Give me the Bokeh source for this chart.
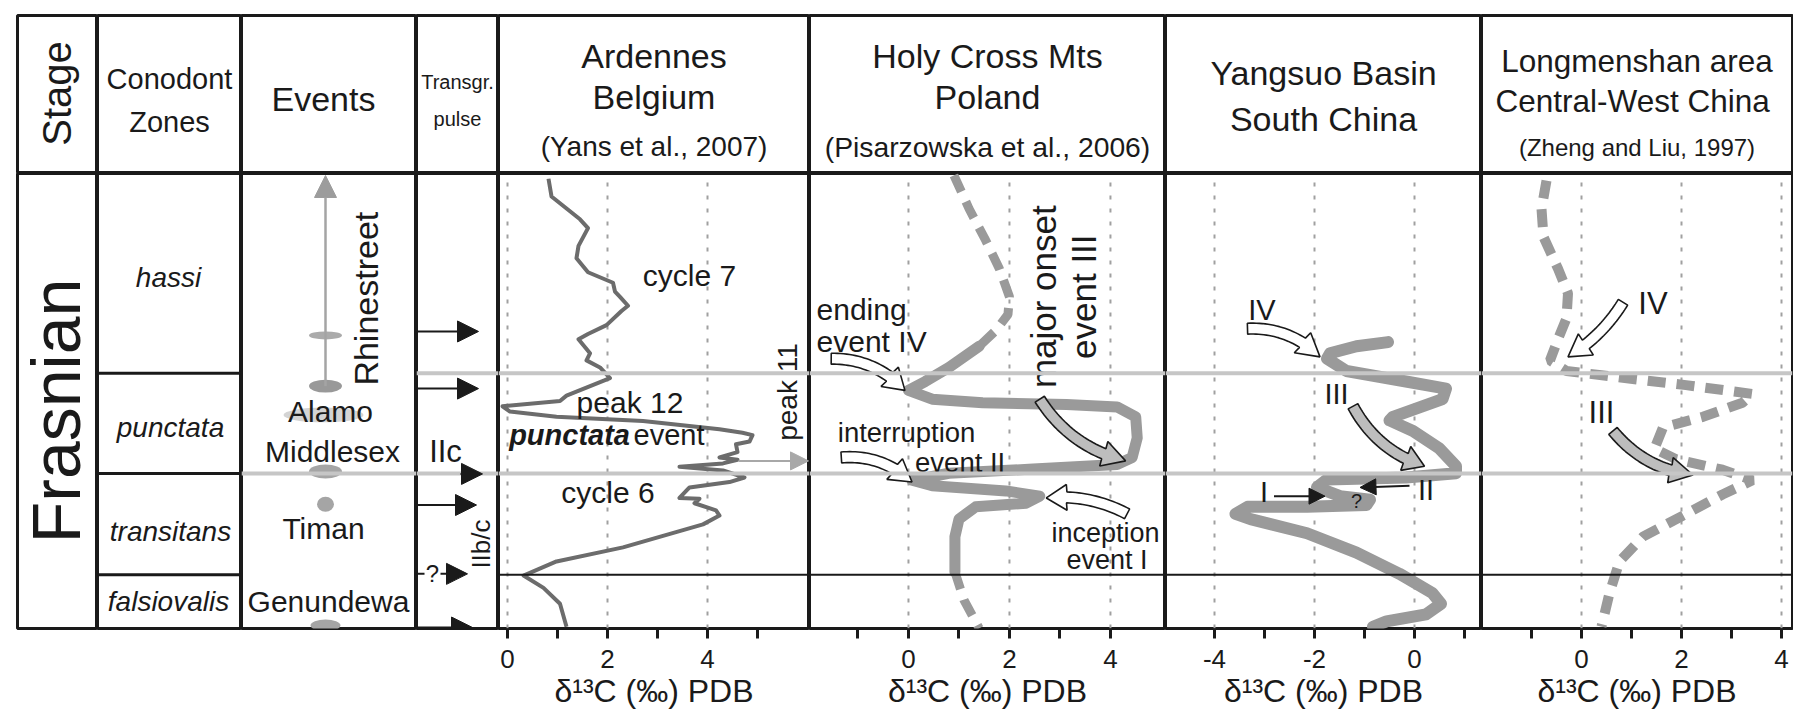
import glob
from math import pi, hypot
from bokeh.plotting import figure
from bokeh.layouts import row, column
from bokeh.models import Range1d, FixedTicker, Span, Arrow, NormalHead
from bokeh.core.properties import value
from bokeh.embed import file_html
from bokeh.resources import INLINE

# ------------------------------------------------------------------ data
stage_name = "Frasnian"
zone_names = ["hassi", "punctata", "transitans", "falsiovalis"]
zone_label_level = [353, 202, 98, 27]
zone_boundaries = [257, 156, 54]      # hassi/punctata, punctata/transitans, transitans/falsiovalis
top_level = 458

event_names = ["Alamo", "Middlesex", "Timan", "Genundewa"]
event_level = [218, 178, 101, 27]
event_marker_level = [295, 244, 158, 125, 3]

pulse_names = ["IIc", "IIb/c"]
pulse_level = [299, 241.5, 155.6, 124.3, 55, 1]

ardennes_d13c = [0.82, 0.88, 1.45, 1.61, 1.42, 1.38, 1.61, 2.11, 2.15, 2.25, 2.41, 2.28, 1.98,
                 1.61, 1.42, 1.65, 1.58, 1.85, 2.05, 1.18, 1.05, -0.10, 0.05, 0.98, 2.71, 4.24,
                 4.70, 4.90, 4.84, 4.57, 4.60, 4.24, 4.60, 4.31, 3.44, 4.31, 4.74, 4.44, 3.64,
                 3.44, 3.84, 3.74, 4.17, 4.24, 3.91, 2.31, 0.98, 0.32, 0.72, 1.05, 1.18]
ardennes_level = [452.7, 434.9, 411.9, 403, 385.2, 372.8, 358.6, 348, 339.1, 333.8, 324.9, 319.6,
                  305.4, 296.5, 291.2, 277, 269.9, 262.8, 252.1, 234.4, 229, 223.7, 218.4, 213.1,
                  208.8, 200.6, 197.1, 194.6, 188.2, 185.4, 177.6, 172.2, 169.8, 166.2, 162.7,
                  159.1, 152, 147.4, 142, 131.4, 130.7, 126.1, 119, 113.7, 104.8, 81.7, 67.5,
                  53.3, 40.9, 24.9, 1.8]

holy_top_d13c = [0.90, 1.20, 1.53, 1.80, 2.00, 1.97, 1.73, 1.40]
holy_top_level = [456.2, 422.5, 390.6, 362.2, 333.8, 316, 300, 284.1]
holy_mid_d13c = [1.40, 0.80, 0.33, 0.00, 0.47, 1.47, 3.13, 4.13, 4.50, 4.53, 4.43, 4.13, 2.47,
                 0.80, 0.07, 0.47, 1.93, 2.60, 2.33, 1.33, 1.00, 0.92, 0.92]
holy_mid_level = [284.1, 262.8, 248.6, 239.7, 230.8, 227.3, 225.5, 223, 213.1, 191.8, 172.2,
                  165.1, 160.5, 156.3, 149.2, 143.8, 138.5, 133.2, 126.1, 122.5, 110.1, 92.4, 56.9]
holy_bot_d13c = [0.92, 1.10, 1.40]
holy_bot_level = [56.9, 28.5, 0.1]

yangsuo_d13c = [-0.53, -1.16, -1.69, -1.75, -1.36, -0.17, 0.63, 0.56, -0.43, -0.50, -0.03, 0.50,
                0.83, 0.83, -0.17, -1.75, -1.95, -1.49, -0.89, -0.96, -2.15, -3.34, -3.58, -3.28,
                -2.15, -1.16, -0.30, 0.36, 0.53, 0.23, -0.56, -0.83]
yangsuo_level = [288.3, 284.1, 277, 271.6, 259.2, 248.6, 241.5, 230.8, 213.1, 209.5, 198.9, 181.1,
                 163.4, 156.3, 152, 149.9, 142.1, 133.2, 129.6, 124.3, 122.5, 122.5, 115.4, 110.1,
                 95.9, 76.4, 55.1, 35.6, 24.9, 14.3, 7.2, 1.8]

longmen_d13c = [-0.70, -0.80, -0.76, -0.47, -0.27, -0.30, -0.47, -0.63, -0.30, 0.56, 2.09, 3.42,
                3.22, 2.43, 1.63, 1.46, 1.89, 2.82, 3.42, 2.82, 2.03, 1.23, 0.76, 0.56, 0.40]
longmen_level = [450.9, 422.5, 394.1, 362.2, 337.3, 312.4, 291.2, 269.9, 259.2, 253.9, 245,
                 236.1, 227.3, 213.1, 202.4, 181.1, 170.5, 159.8, 149.2, 134.9, 113.7, 92.4,
                 67.5, 35.6, 1.8]

ardennes_ticks = [0, 1, 2, 3, 4, 5]
holy_ticks = [-1, 0, 1, 2, 3, 4]
yangsuo_ticks = [-4, -3, -2, -1, 0, 1]
longmen_ticks = [-1, 0, 1, 2, 3, 4]
ardennes_grid = [0, 2, 4]
holy_grid = [0, 2, 4]
yangsuo_grid = [-4, -2, 0]
longmen_grid = [0, 2, 4]

header_titles = {
    "stage": ["Stage"],
    "conodont": ["Conodont", "Zones"],
    "events": ["Events"],
    "pulse": ["Transgr.", "pulse"],
    "ardennes": ["Ardennes", "Belgium", "(Yans et al., 2007)"],
    "holy": ["Holy Cross Mts", "Poland", "(Pisarzowska et al., 2006)"],
    "yangsuo": ["Yangsuo Basin", "South China"],
    "longmen": ["Longmenshan area", "Central-West  China", "(Zheng and Liu, 1997)"],
}
axis_title = "δ¹³C (‰) PDB"

# ------------------------------------------------------------------ fonts
HAS_NARROW = bool(glob.glob("/usr/share/fonts/**/LiberationSansNarrow*", recursive=True))
NF = "Liberation Sans Narrow" if HAS_NARROW else "Liberation Sans"
K = 1 / 0.82 if HAS_NARROW else 1.0
RF = "Liberation Sans"
INK = "#1a1a1a"
CURVE = "#9a9a9a"
BLANK = "\u00a0"

BODY_H = 458
AX_B = 92
HEAD_H = 158
TOP_B = 15


def add_text(p, xs, ys, texts, size, font=None, style="normal", angle=0.0, align="center",
             baseline="middle", color=INK, narrow=True):
    f = font or (NF if narrow else RF)
    sz = size * K if (narrow and font is None) else size
    p.text(x=xs, y=ys, text=texts, text_font=value(f), text_font_size=value(f"{sz:.1f}px"),
           text_font_style=style, text_align=align, text_baseline=baseline, angle=angle,
           text_color=color)


def block_arrow(tail, head, sx, sy=1.0, bend=0.0, body=5.5, headw=13.0, headl=20.0, n=30):
    x0, y0 = tail[0] * sx, tail[1] * sy
    x1, y1 = head[0] * sx, head[1] * sy
    dx, dy = x1 - x0, y1 - y0
    L = hypot(dx, dy)
    nx, ny = -dy / L, dx / L
    cx, cy = (x0 + x1) / 2 + nx * bend * L, (y0 + y1) / 2 + ny * bend * L
    pts = []
    for i in range(n):
        t = i / (n - 1)
        pts.append(((1 - t) ** 2 * x0 + 2 * (1 - t) * t * cx + t * t * x1,
                    (1 - t) ** 2 * y0 + 2 * (1 - t) * t * cy + t * t * y1))
    acc, k = 0.0, n - 1
    while k > 1 and acc < headl:
        acc += hypot(pts[k][0] - pts[k - 1][0], pts[k][1] - pts[k - 1][1])
        k -= 1
    left, right = [], []
    for i in range(k + 1):
        a, b = pts[max(i - 1, 0)], pts[min(i + 1, n - 1)]
        tx, ty = b[0] - a[0], b[1] - a[1]
        tl = hypot(tx, ty)
        ux, uy = -ty / tl, tx / tl
        left.append((pts[i][0] + ux * body, pts[i][1] + uy * body))
        right.append((pts[i][0] - ux * body, pts[i][1] - uy * body))
    a = pts[k]
    tx, ty = x1 - a[0], y1 - a[1]
    tl = hypot(tx, ty)
    ux, uy = -ty / tl, tx / tl
    poly = left + [(a[0] + ux * headw, a[1] + uy * headw), (x1, y1),
                   (a[0] - ux * headw, a[1] - uy * headw)] + right[::-1]
    return [q[0] / sx for q in poly], [q[1] / sy for q in poly]


def draw_block(p, tail, head, sx, bend, fill):
    xs, ys = block_arrow(tail, head, sx, bend=bend)
    p.patch(xs, ys, fill_color=fill, line_color=INK, line_width=1.6)


def header_fig(w, left=0, right=0):
    p = figure(width=w + left + right, height=HEAD_H + TOP_B, x_range=Range1d(0, w),
               y_range=Range1d(0, HEAD_H), min_border=0, min_border_top=TOP_B,
               min_border_left=left, min_border_right=right, x_axis_location=None,
               y_axis_location=None, output_backend="svg", toolbar_location=None, tools="")
    p.grid.visible = False
    p.outline_line_color = INK
    p.outline_line_width = 3
    return p


def body_fig(w, xr, ticks=None, labels=None, left=0, right=0):
    p = figure(width=w + left + right, height=BODY_H + AX_B, x_range=Range1d(*xr),
               y_range=Range1d(0, top_level), min_border=0, min_border_bottom=AX_B,
               min_border_left=left, min_border_right=right, y_axis_location=None,
               output_backend="svg", toolbar_location=None, tools="")
    p.grid.visible = False
    p.outline_line_color = INK
    p.outline_line_width = 3
    ax = p.xaxis[0]
    ax.axis_line_color = None
    ax.axis_label_text_font = RF
    ax.axis_label_text_font_size = "32px"
    ax.axis_label_text_font_style = "normal"
    ax.axis_label_text_color = INK
    ax.axis_label_standoff = 2
    ax.major_label_text_font = RF
    ax.major_label_text_font_size = "26px"
    ax.major_label_text_color = INK
    ax.major_label_standoff = 11
    ax.major_tick_in = 0
    ax.major_tick_out = 10
    ax.minor_tick_line_color = None
    if ticks is None:
        mid = (xr[0] + xr[1]) / 2
        ax.axis_label = BLANK
        ax.ticker = FixedTicker(ticks=[mid])
        ax.major_label_overrides = {mid: BLANK}
        ax.major_tick_line_color = None
    else:
        ax.axis_label = axis_title
        ax.ticker = FixedTicker(ticks=ticks)
        ax.major_label_overrides = {t: (labels.get(t, "")) for t in ticks}
        ax.major_tick_line_color = INK
        ax.major_tick_line_width = 3
    return p


def panel_base(p, grid):
    p.segment(x0=grid, y0=[0] * len(grid), x1=grid, y1=[top_level] * len(grid),
              line_color="#a0a0a0", line_width=2, line_dash="4 9")
    for lv in zone_boundaries[:2]:
        p.add_layout(Span(location=lv, dimension="width", line_color="#c6c6c6", line_width=4))
    p.add_layout(Span(location=zone_boundaries[2], dimension="width", line_color=INK, line_width=2))


# ------------------------------------------------------------------ column widths
W_STAGE, W_CONO, W_EVT, W_PULSE = 80, 144, 175, 82
W_ARD, W_HOLY, W_YANG, W_LONG = 311, 356, 316, 311
LEFT0 = 17

# ------------------------------------------------------------------ headers
h_stage = header_fig(W_STAGE, left=LEFT0)
add_text(h_stage, [39], [80], header_titles["stage"], 40, angle=pi / 2, narrow=False)

h_cono = header_fig(W_CONO)
add_text(h_cono, [72, 72], [95, 52], header_titles["conodont"], 29)

h_evt = header_fig(W_EVT)
add_text(h_evt, [82], [75], header_titles["events"], 34)

h_pulse = header_fig(W_PULSE)
add_text(h_pulse, [41, 41], [92, 55], header_titles["pulse"], 20)

h_ard = header_fig(W_ARD)
add_text(h_ard, [W_ARD / 2, W_ARD / 2], [118, 77], header_titles["ardennes"][:2], 34)
add_text(h_ard, [W_ARD / 2], [27], header_titles["ardennes"][2:], 28)

h_holy = header_fig(W_HOLY)
add_text(h_holy, [W_HOLY / 2, W_HOLY / 2], [118, 77], header_titles["holy"][:2], 34)
add_text(h_holy, [W_HOLY / 2], [27], header_titles["holy"][2:], 28.3)

h_yang = header_fig(W_YANG)
add_text(h_yang, [W_YANG / 2, W_YANG / 2], [101, 55], header_titles["yangsuo"], 34)

h_long = header_fig(W_LONG, right=1)
add_text(h_long, [W_LONG / 2, W_LONG / 2], [113, 73], header_titles["longmen"][:2], 31.5)
add_text(h_long, [W_LONG / 2], [26], header_titles["longmen"][2:], 24)

# ------------------------------------------------------------------ bodies: stratigraphy
b_stage = body_fig(W_STAGE, (0, W_STAGE), left=LEFT0)
add_text(b_stage, [38], [219], [stage_name], 68, angle=pi / 2, narrow=False)

b_cono = body_fig(W_CONO, (0, W_CONO))
for lv in zone_boundaries:
    b_cono.add_layout(Span(location=lv, dimension="width", line_color=INK, line_width=3))
add_text(b_cono, [71, 73, 73, 71], zone_label_level, zone_names, 28, style="italic")

b_evt = body_fig(W_EVT, (0, W_EVT))
b_evt.add_layout(Span(location=zone_boundaries[1], dimension="width", line_color="#c6c6c6",
                      line_width=4))
b_evt.ellipse(x=[82], y=[215], width=[80], height=[15], fill_color="#d4d4d4", line_color=None)
b_evt.add_layout(Arrow(end=NormalHead(size=22, fill_color="#9c9c9c", line_color="#9c9c9c"),
                       x_start=84, y_start=event_marker_level[1], x_end=84, y_end=456,
                       line_color="#a4a4a4", line_width=2.5))
b_evt.ellipse(x=[84] * 5, y=event_marker_level, width=[33, 33, 33, 17, 30],
              height=[8, 13, 14, 15, 12], fill_color=["#ababab", "#999999", "#a5a5a5",
                                                     "#a5a5a5", "#a5a5a5"], line_color=None)
add_text(b_evt, [89, 91, 82, 87], event_level, event_names, 30)
add_text(b_evt, [124], [332], ["Rhinestreet"], 34, angle=pi / 2, narrow=False)

b_pulse = body_fig(W_PULSE, (0, W_PULSE))
for lv in zone_boundaries[:2]:
    b_pulse.add_layout(Span(location=lv, dimension="width", line_color="#c6c6c6", line_width=4))
pulse_start = [1, 1, 44, 1, 24, 1]
pulse_tip = [62, 62, 66, 60, 51, 56]
for lv, x0, x1 in zip(pulse_level, pulse_start, pulse_tip):
    b_pulse.add_layout(Arrow(end=NormalHead(size=21, fill_color=INK, line_color=INK),
                             x_start=x0, y_start=lv, x_end=x1, y_end=lv,
                             line_color=INK, line_width=2))
b_pulse.segment(x0=[1], y0=[pulse_level[4]], x1=[8], y1=[pulse_level[4]], line_color=INK,
                line_width=2)
add_text(b_pulse, [16], [pulse_level[4]], ["?"], 24)
add_text(b_pulse, [29], [178], [pulse_names[0]], 31)
add_text(b_pulse, [64], [85], [pulse_names[1]], 26, angle=pi / 2, narrow=False)

# ------------------------------------------------------------------ Ardennes
b_ard = body_fig(W_ARD, (-0.18, 6.04), ardennes_ticks, {0: "0", 2: "2", 4: "4"})
panel_base(b_ard, ardennes_grid)
b_ard.line(ardennes_d13c, ardennes_level, line_color="#6c6c6c", line_width=4,
           line_join="round")
add_text(b_ard, [3.64, 2.45, 2.01], [355, 227, 137], ["cycle 7", "peak 12", "cycle 6"], 30)
add_text(b_ard, [2.45], [195], ["punctata"], 29, style="bold italic", align="right")
add_text(b_ard, [2.52], [195], ["event"], 29, align="left")
add_text(b_ard, [5.6], [238], ["peak 11"], 28, angle=pi / 2, narrow=False)
b_ard.add_layout(Arrow(end=NormalHead(size=18, fill_color="#a8a8a8", line_color="#a8a8a8"),
                       x_start=4.62, y_start=168.7, x_end=6.02, y_end=168.7,
                       line_color="#a8a8a8", line_width=2))

# ------------------------------------------------------------------ Holy Cross
b_holy = body_fig(W_HOLY, (-1.96, 5.09), holy_ticks, {0: "0", 2: "2", 4: "4"})
panel_base(b_holy, holy_grid)
b_holy.line(holy_top_d13c, holy_top_level, line_color=CURVE, line_width=9, line_dash="18 11")
b_holy.line(holy_mid_d13c, holy_mid_level, line_color=CURVE, line_width=11, line_join="round",
            line_cap="round")
b_holy.line(holy_bot_d13c, holy_bot_level, line_color=CURVE, line_width=9, line_dash="18 11")
draw_block(b_holy, (-1.53, 271.6), (-0.07, 239.7), 50.5, 0.22, "white")
draw_block(b_holy, (-1.33, 172.2), (0.07, 147.4), 50.5, 0.22, "white")
draw_block(b_holy, (2.6, 230.8), (4.3, 168.7), 50.5, -0.2, "#bdbdbd")
draw_block(b_holy, (4.33, 115.4), (2.73, 131.4), 50.5, -0.15, "white")
add_text(b_holy, [-1.82, -1.82], [321, 289], ["ending", "event IV"], 30, align="left")
add_text(b_holy, [-1.4, 0.13], [197, 167], ["interruption", "event II"], 27.5, align="left")
add_text(b_holy, [2.83, 3.13], [96, 69], ["inception", "event I"], 27, align="left")
add_text(b_holy, [2.67, 3.47], [334, 334], ["major onset", "event III"], 35, angle=pi / 2,
         narrow=False)

# ------------------------------------------------------------------ Yangsuo
b_yang = body_fig(W_YANG, (-4.98, 1.34), yangsuo_ticks, {-4: "-4", -2: "-2", 0: "0"})
panel_base(b_yang, yangsuo_grid)
b_yang.line(yangsuo_d13c, yangsuo_level, line_color=CURVE, line_width=12, line_join="round",
            line_cap="round")
draw_block(b_yang, (-3.34, 301.8), (-1.89, 273.4), 50, 0.22, "white")
draw_block(b_yang, (-1.23, 223.7), (0.2, 163.4), 50, -0.2, "#bdbdbd")
for (xa, ya, xb, yb) in [(-2.81, 133.2, -1.79, 133.2), (-0.1, 143.8, -1.09, 142.0)]:
    b_yang.add_layout(Arrow(end=NormalHead(size=16, fill_color=INK, line_color=INK),
                            x_start=xa, y_start=ya, x_end=xb, y_end=yb, line_color=INK,
                            line_width=2))
add_text(b_yang, [-3.05, -1.56, -3.01, 0.23], [321, 236, 137, 139], ["IV", "III", "I", "II"], 29)
add_text(b_yang, [-1.16], [128], ["?"], 20)

# ------------------------------------------------------------------ Longmenshan
b_long = body_fig(W_LONG, (-2.0, 4.22), longmen_ticks, {0: "0", 2: "2", 4: "4"}, right=1)
panel_base(b_long, longmen_grid)
b_long.line(longmen_d13c, longmen_level, line_color=CURVE, line_width=10, line_dash="18 11")
draw_block(b_long, (0.83, 328.4), (-0.27, 273.4), 50, 0.12, "white")
draw_block(b_long, (0.63, 198.9), (2.23, 154.5), 50, -0.2, "#bdbdbd")
add_text(b_long, [1.43, 0.40], [327, 217], ["IV", "III"], 31)

layout = column(
    row(h_stage, h_cono, h_evt, h_pulse, h_ard, h_holy, h_yang, h_long),
    row(b_stage, b_cono, b_evt, b_pulse, b_ard, b_holy, b_yang, b_long),
)

open("out.html", "w").write(file_html(layout, INLINE))
